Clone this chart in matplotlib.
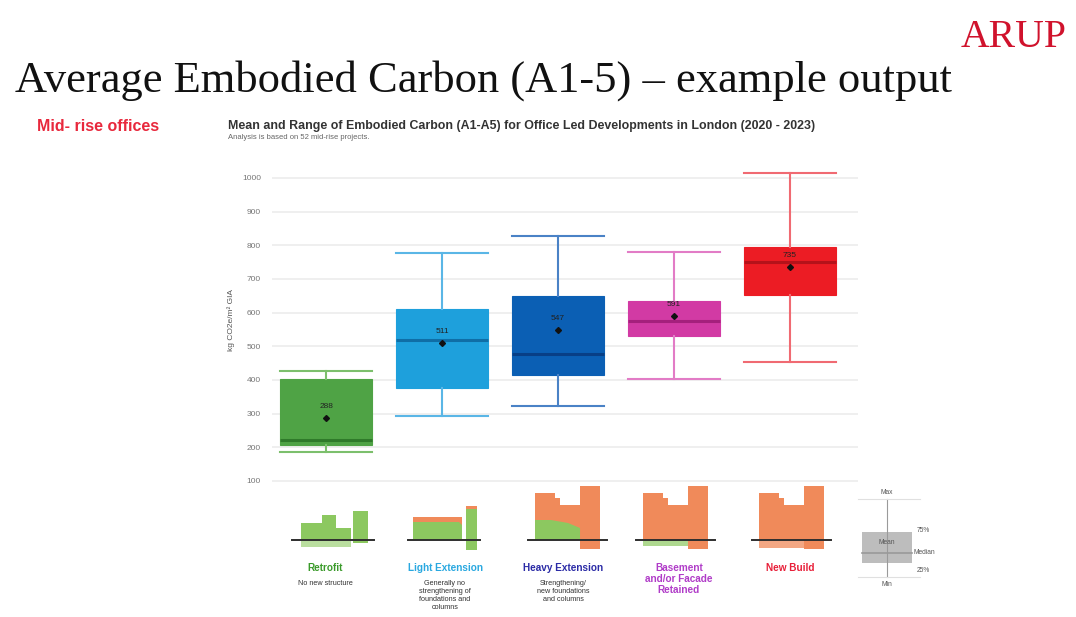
import matplotlib
matplotlib.use("Agg")
import matplotlib.pyplot as plt
from matplotlib.patches import Rectangle, Polygon

# ---- data -------------------------------------------------------------
categories = ["Retrofit", "Light Extension", "Heavy Extension",
              "Basement\nand/or Facade\nRetained", "New Build"]
descriptions = ["No new structure",
                "Generally no\nstrengthening of\nfoundations and\ncolumns",
                "Strengthening/\nnew foundations\nand columns",
                "", ""]
mins = [186, 292, 324, 404, 453]
q1 = [208, 376, 415, 532, 653]
medians = [221, 519, 476, 575, 750]
q3 = [403, 611, 649, 634, 794]
maxs = [426, 777, 829, 781, 1014]
means = [288, 511, 547, 591, 735]
yticks = [100, 200, 300, 400, 500, 600, 700, 800, 900, 1000]

box_colors = ["#4fa345", "#1ea0dc", "#0b5fb4", "#d23aa4", "#ec1c24"]
median_colors = ["#2f7a2a", "#0f6ea6", "#083f86", "#a5207c", "#b5121a"]
whisker_colors = ["#7cbf6c", "#5ab6e6", "#4a82c6", "#e27cc6", "#f06a72"]
label_colors = ["#3a9a2a", "#29a8e0", "#2b2ba6", "#b03cc8", "#e8203a"]

W, H = 1076, 617
fig = plt.figure(figsize=(W / 100, H / 100), dpi=100)
fig.patch.set_facecolor("white")


def px_axes(left, top, right, bottom):
    return fig.add_axes([left / W, 1 - bottom / H, (right - left) / W, (bottom - top) / H])


# ---- box plot ---------------------------------------------------------
ax = px_axes(272, 164.5, 858, 489.4)

stats = []
for i in range(len(categories)):
    stats.append(dict(whislo=mins[i], q1=q1[i], med=medians[i], q3=q3[i],
                      whishi=maxs[i], mean=means[i], fliers=[]))

for i, st in enumerate(stats):
    ax.bxp([st], positions=[i], widths=0.80, patch_artist=True,
           showmeans=False, showfliers=False,
           boxprops=dict(facecolor=box_colors[i], edgecolor=box_colors[i], linewidth=0.8),
           medianprops=dict(color=median_colors[i], linewidth=2.2),
           whiskerprops=dict(color=whisker_colors[i], linewidth=1.5),
           capprops=dict(color=whisker_colors[i], linewidth=1.5),
           capwidths=0.80)
    ax.plot(i, means[i], marker="D", markersize=3, color="#111111", zorder=5)
    ax.text(i, means[i] + 24, str(means[i]), ha="center", va="bottom",
            fontsize=6, color="#222222", family="Liberation Sans", zorder=6)

ax.set_xlim(-0.466, 4.586)
ax.set_ylim(75, 1040)
for s in ax.spines.values():
    s.set_visible(False)
ax.set_xticks([])
ax.set_yticks(yticks)
ax.set_yticklabels([str(v) for v in yticks], fontsize=6, color="#777777",
                   family="Liberation Sans")
ax.tick_params(axis="y", length=0, pad=8)
ax.grid(axis="y", color="#ececec", linewidth=1.2)
ax.set_axisbelow(True)
ax.set_ylabel("kg CO2e/m² GIA", fontsize=6, color="#555555",
              family="Liberation Sans")
ax.yaxis.set_label_coords(-0.063, 0.52)

# ---- slide overlay (pixel coordinates) -------------------------------
ov = fig.add_axes([0, 0, 1, 1], facecolor="none")
ov.set_xlim(0, W)
ov.set_ylim(H, 0)
ov.axis("off")

ov.text(15, 92, "Average Embodied Carbon (A1-5) \u2013 example output",
        fontsize=32, family="Liberation Serif", color="#111111", va="baseline")
ov.text(961, 47, "ARUP", fontsize=28.5, family="Liberation Serif",
        color="#d0122c", va="baseline")
ov.text(37, 131, "Mid- rise offices", fontsize=11.5, fontweight="bold",
        family="Liberation Sans", color="#e8283c", va="baseline")
ov.text(228, 129, "Mean and Range of Embodied Carbon (A1-A5) for Office Led "
        "Developments in London (2020 - 2023)", fontsize=8.9, fontweight="bold",
        family="Liberation Sans", color="#333333", va="baseline")
ov.text(228, 139, "Analysis is based on 52 mid-rise projects.", fontsize=5.5,
        family="Liberation Sans", color="#666666", va="baseline")

# building pictograms under each category
GREEN, ORANGE = "#8cc860", "#f08a5a"
BASE_Y = 540
centers_px = [ax.transData.transform((i, 0))[0] for i in range(len(categories))]


def block(cx, x0, x1, h0, h1, color, alpha=1.0):
    ov.add_patch(Rectangle((cx + x0, BASE_Y - h1), x1 - x0, h1 - h0,
                           facecolor=color, edgecolor="none", alpha=alpha))


def baseline(cx, x0, x1):
    ov.plot([cx + x0, cx + x1], [BASE_Y, BASE_Y], color="#2e2e2e", lw=1.4)


# Retrofit
c = centers_px[0]
block(c, -25, 25, -7, 0, GREEN, 0.6)
block(c, -25, -4, 0, 17, GREEN)
block(c, -4, 10, 0, 25, GREEN)
block(c, 10, 25, 0, 12, GREEN)
block(c, 27, 42, -3, 29, GREEN)
baseline(c, -34, 48)

# Light extension
c = centers_px[1]
block(c, -29, 20, 0, 18, GREEN)
block(c, -29, 20, 18, 23, ORANGE)
ov.add_patch(Polygon([(c + 12, BASE_Y - 23), (c + 20, BASE_Y - 23),
                      (c + 20, BASE_Y - 15)], facecolor=ORANGE, edgecolor="none"))
block(c, 24, 35, -10, 34, GREEN)
block(c, 24, 35, 31, 34, ORANGE)
baseline(c, -34, 38)

# Heavy extension, basement retained, new build share the same massing
for k, green_part in zip([2, 3, 4], ["curve", "basement", "none"]):
    c = centers_px[k] + (8 if k == 2 else 0)
    block(c, -31, -11, 0, 47, ORANGE)
    block(c, -11, -6, 0, 42, ORANGE)
    block(c, -6, 14, 0, 35, ORANGE)
    block(c, 14, 34, -9, 54, ORANGE)
    if green_part == "curve":
        ov.add_patch(Polygon([(c - 31, BASE_Y - 20), (c - 15, BASE_Y - 20),
                              (c + 2, BASE_Y - 17), (c + 14, BASE_Y - 12),
                              (c + 14, BASE_Y), (c - 31, BASE_Y)],
                             facecolor=GREEN, edgecolor="none"))
    elif green_part == "basement":
        block(c, -31, 14, -6, 0, GREEN, 0.7)
    else:
        block(c, -31, 14, -8, 0, ORANGE, 0.75)
    baseline(c, -38, 41)

# category names and descriptions
label_x = [325, 445, 563, 679, 790]
for i, name in enumerate(categories):
    ov.text(label_x[i], 563, name, ha="center", va="top", fontsize=7.2,
            fontweight="bold", family="Liberation Sans", color=label_colors[i],
            linespacing=1.15)
    if descriptions[i]:
        ov.text(label_x[i], 580, descriptions[i], ha="center", va="top",
                fontsize=5.2, family="Liberation Sans", color="#333333",
                linespacing=1.2)

# key diagram
kx = 887
ov.plot([kx, kx], [499, 577], color="#9a9a9a", lw=0.8)
ov.plot([858, 920], [499, 499], color="#e0e0e0", lw=0.8)
ov.plot([858, 920], [577, 577], color="#e0e0e0", lw=0.8)
ov.add_patch(Rectangle((862, 532), 50, 31, facecolor="#bdbdbd", edgecolor="none"))
ov.plot([862, 912], [553, 553], color="#999999", lw=1.2)
key_font = dict(fontsize=4.8, family="Liberation Sans", color="#555555")
ov.text(kx, 492, "Max", ha="center", va="center", **key_font)
ov.text(kx, 585, "Min", ha="center", va="center", **key_font)
ov.text(kx, 542, "Mean", ha="center", va="center", **key_font)
ov.text(917, 530, "75%", ha="left", va="center", **key_font)
ov.text(914, 553, "Median", ha="left", va="center", **key_font)
ov.text(917, 570, "25%", ha="left", va="center", **key_font)

fig.savefig("out.png", dpi=100, facecolor="white")
